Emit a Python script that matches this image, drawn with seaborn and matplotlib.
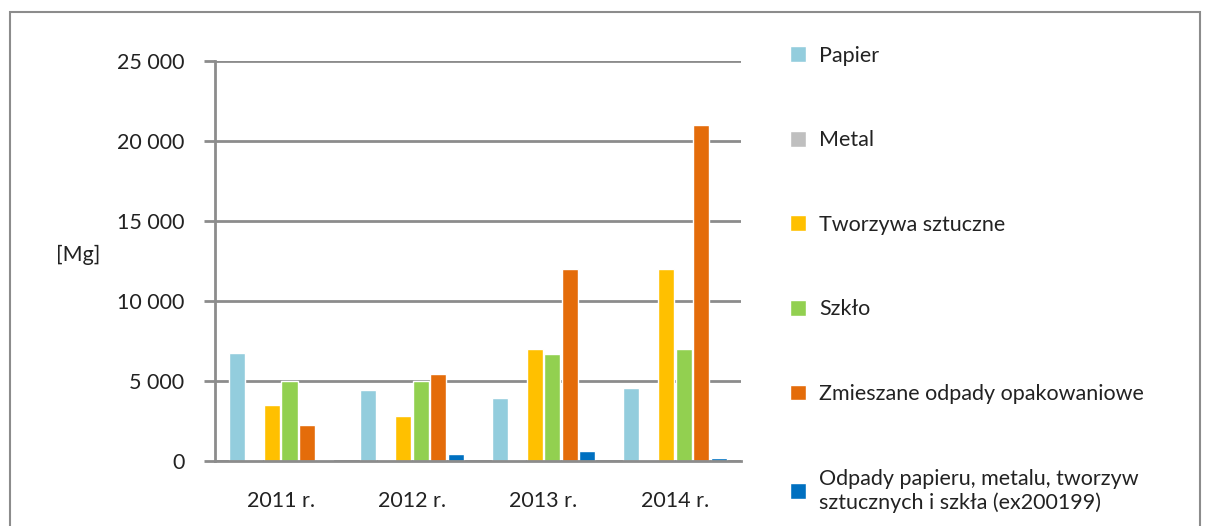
import pandas as pd
import numpy as np
import matplotlib.pyplot as plt
import matplotlib.ticker as mticker
from matplotlib.patches import Rectangle
import seaborn as sns

# Data
years = ["2011 r.", "2012 r.", "2013 r.", "2014 r."]
series = [
    "Papier",
    "Metal",
    "Tworzywa sztuczne",
    "Szkło",
    "Zmieszane odpady opakowaniowe",
    "Odpady papieru, metalu, tworzyw\nsztucznych i szkła (ex200199)",
]
papier = [6750, 4400, 3900, 4550]
metal = [20, 20, 20, 30]
tworzywa = [3500, 2800, 7000, 12000]
szklo = [5000, 5000, 6650, 7000]
zmieszane = [2250, 5450, 12000, 21000]
odpady = [60, 400, 600, 200]
colors = ["#93CDDD", "#BFBFBF", "#FFC000", "#92D050", "#E46C0A", "#0070C0"]

# Long-form table for seaborn
values = [papier, metal, tworzywa, szklo, zmieszane, odpady]
rows = []
for name, vals in zip(series, values):
    for year, v in zip(years, vals):
        rows.append({"rok": year, "seria": name, "Mg": v})
df = pd.DataFrame(rows)

sns.set_style("white")
plt.rcParams["font.family"] = ["Lato", "DejaVu Sans"]

fig = plt.figure(figsize=(12.08, 5.26), dpi=100)
ax = fig.add_axes([0.178, 0.124, 0.435, 0.760])

grey = "#8C8C8C"
ax.set_axisbelow(True)
ax.yaxis.grid(True, color=grey, linewidth=2)

sns.barplot(data=df, x="rok", y="Mg", hue="seria", hue_order=series,
            palette=colors, saturation=1, width=0.8, gap=0.08, ax=ax,
            legend=True)

ax.set_ylim(0, 25000)
ax.set_xlim(-0.5, len(years) - 0.5)
ax.yaxis.set_major_locator(mticker.MultipleLocator(5000))
ax.yaxis.set_major_formatter(
    mticker.FuncFormatter(lambda v, p: f"{int(v):,}".replace(",", " ")))

# category boundary ticks on the x axis
ax.set_xticks(np.arange(-0.5, len(years)), minor=True)
ax.tick_params(axis="x", which="major", length=0, labelsize=15.5, pad=22, colors="#222222")
ax.tick_params(axis="x", which="minor", length=12, width=2, color=grey)
ax.tick_params(axis="y", length=8, width=2, color=grey, labelsize=15.5,
               pad=14, labelcolor="#222222", left=True)

for side in ["top", "right"]:
    ax.spines[side].set_visible(False)
for side in ["left", "bottom"]:
    ax.spines[side].set_color(grey)
    ax.spines[side].set_linewidth(2)

ax.set_xlabel("")
ax.set_ylabel("[Mg]", rotation=0, fontsize=15.5, color="#222222")
ax.yaxis.set_label_coords(-0.26, 0.49)

handles, labels = ax.get_legend_handles_labels()
ax.get_legend().remove()
fig.legend(handles, labels, loc="upper left", bbox_to_anchor=(0.638, 0.95),
           frameon=False, fontsize=15.5, labelspacing=3.0, handlelength=0.75,
           handleheight=0.75, handletextpad=0.6, labelcolor="#222222")

# outer chart frame
fig.patches.append(Rectangle((0.008, -0.05), 0.985, 1.027, transform=fig.transFigure,
                             fill=False, edgecolor=grey, linewidth=1.5))

fig.savefig("out.png", dpi=100)
